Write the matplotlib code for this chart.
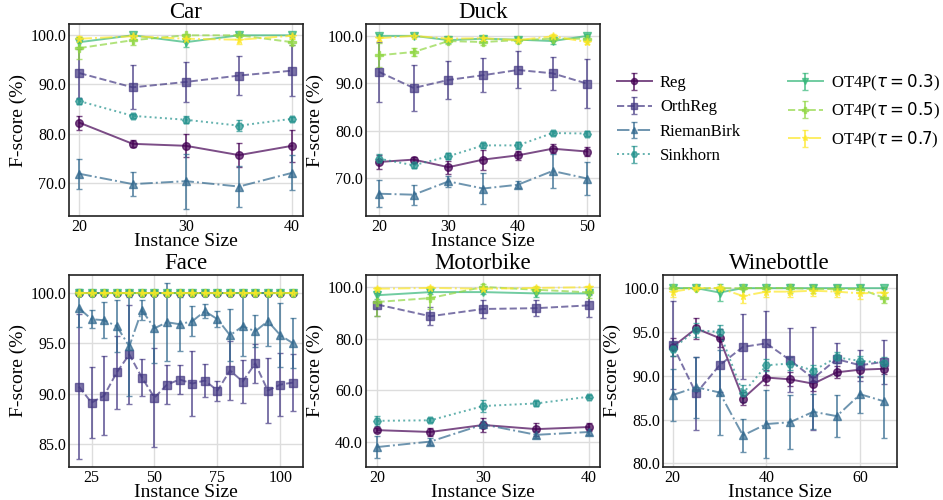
import matplotlib
matplotlib.use('Agg')
import matplotlib.pyplot as plt
import numpy as np

plt.rcParams['font.family'] = ['Liberation Serif', 'DejaVu Sans']
plt.rcParams['mathtext.fontset'] = 'dejavusans'

methods = ['Reg', 'OrthReg', 'RiemanBirk', 'Sinkhorn',
           r'OT4P($\tau = 0.3$)', r'OT4P($\tau = 0.5$)', r'OT4P($\tau = 0.7$)']

# order of rows in every *_mean / *_err list follows "methods"
car_x = [20, 25, 30, 35, 40]
car_mean = [
    [82.2, 77.9, 77.5, 75.6, 77.5],
    [92.3, 89.4, 90.5, 91.8, 92.8],
    [71.8, 69.7, 70.3, 69.2, 72.0],
    [86.6, 83.6, 82.8, 81.6, 83.0],
    [98.6, 100.0, 98.6, 100.0, 100.0],
    [97.4, 99.0, 100.0, 100.0, 98.6],
    [99.3, 99.8, 99.3, 99.1, 99.9],
]
car_err = [
    [1.4, 0.7, 2.3, 2.4, 3.2],
    [5.0, 4.5, 4.0, 3.9, 5.2],
    [3.0, 2.4, 5.6, 4.1, 3.6],
    [0.5, 0.4, 0.7, 1.1, 0.4],
    [1.0, 0.3, 1.0, 0.3, 0.3],
    [2.2, 1.0, 0.3, 0.3, 0.6],
    [0.6, 0.4, 0.6, 0.8, 0.4],
]

duck_x = [20, 25, 30, 35, 40, 45, 50]
duck_mean = [
    [73.4, 73.9, 72.3, 73.9, 74.8, 76.2, 75.6],
    [92.4, 89.0, 90.7, 91.7, 92.8, 92.1, 89.9],
    [66.7, 66.5, 69.3, 67.8, 68.6, 71.5, 69.9],
    [74.1, 72.7, 74.6, 76.9, 76.9, 79.5, 79.4],
    [100.0, 100.0, 99.1, 99.4, 99.2, 98.9, 100.0],
    [95.9, 96.6, 98.9, 98.7, 99.1, 99.4, 99.4],
    [99.5, 100.0, 99.4, 99.5, 99.1, 99.9, 98.7],
]
duck_err = [
    [1.5, 0.5, 1.4, 2.1, 1.0, 1.0, 1.0],
    [6.4, 4.8, 4.0, 3.6, 3.9, 3.5, 5.2],
    [2.9, 2.1, 1.2, 3.2, 0.7, 3.5, 3.5],
    [1.0, 0.5, 0.6, 0.6, 0.7, 0.5, 0.5],
    [0.3, 0.3, 0.6, 0.6, 0.6, 0.6, 0.3],
    [2.5, 0.8, 0.6, 0.6, 0.6, 0.5, 0.5],
    [0.5, 0.3, 0.5, 0.5, 0.5, 0.4, 0.5],
]

face_x = [20, 25, 30, 35, 40, 45, 50, 55, 60, 65, 70, 75, 80, 85, 90, 95, 100, 105]
face_mean = [
    [100.0] * 18,
    [90.7, 89.1, 89.8, 92.1, 93.9, 91.6, 89.6, 90.9, 91.4, 91.0, 91.3, 90.3, 92.3, 91.2, 93.0, 90.3, 90.9, 91.1],
    [98.5, 97.4, 97.3, 96.7, 94.7, 98.3, 96.5, 97.1, 96.9, 97.2, 98.2, 97.4, 95.8, 96.7, 96.2, 97.2, 95.8, 95.0],
    [100.0] * 18,
    [100.0] * 18,
    [100.0] * 18,
    [100.0] * 18,
]
face_err = [
    [0.1] * 18,
    [7.2, 3.5, 3.9, 3.6, 4.9, 1.8, 4.9, 1.9, 1.4, 3.2, 1.6, 1.0, 2.9, 2.1, 1.9, 3.2, 3.1, 2.8],
    [1.9, 0.9, 1.8, 2.6, 4.9, 1.0, 3.5, 3.9, 2.7, 1.5, 0.7, 0.8, 2.6, 3.0, 1.6, 2.5, 3.2, 2.5],
    [0.1] * 18,
    [0.1] * 18,
    [0.1] * 18,
    [0.1] * 18,
]

motor_x = [20, 25, 30, 35, 40]
motor_mean = [
    [44.7, 44.0, 46.7, 45.1, 45.9],
    [93.1, 88.6, 91.4, 91.7, 92.8],
    [38.2, 40.3, 46.9, 42.9, 44.0],
    [48.3, 48.5, 54.0, 55.0, 57.6],
    [96.7, 97.9, 97.9, 97.4, 97.4],
    [94.1, 95.6, 99.9, 98.8, 97.8],
    [99.2, 99.5, 99.2, 99.5, 99.8],
]
motor_err = [
    [0.9, 1.5, 2.6, 2.5, 1.5],
    [4.5, 3.4, 3.5, 3.2, 4.5],
    [4.2, 1.5, 1.5, 1.4, 1.2],
    [2.0, 0.8, 2.2, 0.8, 0.6],
    [1.5, 0.8, 0.8, 1.5, 0.8],
    [5.5, 4.2, 1.0, 1.0, 2.0],
    [0.6, 0.6, 0.6, 0.6, 0.6],
]

wine_x = [20, 25, 30, 35, 40, 45, 50, 55, 60, 65]
wine_mean = [
    [93.3, 95.4, 94.3, 87.4, 89.8, 89.6, 89.1, 90.4, 90.7, 90.8],
    [93.5, 88.0, 91.2, 93.3, 93.7, 91.8, 89.7, 91.9, 91.2, 91.6],
    [87.8, 88.7, 88.1, 83.2, 84.5, 84.7, 85.9, 85.4, 87.9, 87.1],
    [93.1, 95.2, 95.0, 88.0, 91.2, 91.4, 90.6, 92.1, 91.7, 91.5],
    [100.0, 100.0, 99.5, 100.0, 100.0, 100.0, 100.0, 100.0, 100.0, 100.0],
    [100.0, 100.0, 100.0, 100.0, 100.0, 100.0, 99.9, 99.9, 99.9, 98.9],
    [99.6, 100.0, 100.0, 99.1, 99.6, 99.6, 99.7, 99.6, 99.4, 99.5],
]
wine_err = [
    [1.0, 1.2, 1.0, 0.7, 0.9, 0.8, 0.8, 0.7, 0.8, 0.6],
    [5.0, 4.2, 3.0, 3.7, 3.7, 3.6, 5.9, 1.8, 1.8, 2.5],
    [3.0, 3.5, 4.8, 1.9, 3.9, 3.1, 2.0, 2.4, 2.1, 4.2],
    [0.8, 0.8, 0.8, 1.0, 0.7, 0.7, 0.6, 0.6, 0.6, 0.6],
    [0.1, 0.1, 1.0, 0.1, 0.1, 0.1, 0.1, 0.1, 0.1, 0.1],
    [0.1, 0.1, 0.1, 0.1, 0.1, 0.5, 0.5, 0.5, 0.5, 0.6],
    [0.6, 0.2, 0.2, 0.8, 0.6, 0.6, 0.6, 0.6, 0.6, 0.6],
]

colors = ['#440154', '#443983', '#31688e', '#21918c', '#35b779', '#90d743', '#fde725']
markers = ['o', 's', '^', 'H', 'v', 'P', '*']
styles = ['-', '--', '-.', ':', '-', '--', '-.']

panels = [
    ('Car', car_x, car_mean, car_err, [20, 30, 40], [70, 80, 90, 100], (19, 41), (63.2, 102.3), (0, 0)),
    ('Duck', duck_x, duck_mean, duck_err, [20, 30, 40, 50], [70, 80, 90, 100], (18.1, 51.8), (62.0, 102.5), (0, 1)),
    ('Face', face_x, face_mean, face_err, [25, 50, 75, 100], [85, 90, 95, 100], (16, 108.9), (82.7, 101.8), (1, 0)),
    ('Motorbike', motor_x, motor_mean, motor_err, [20, 30, 40], [40, 60, 80, 100], (18.9, 41), (30.5, 104.5), (1, 1)),
    ('Winebottle', wine_x, wine_mean, wine_err, [20, 40, 60], [80, 85, 90, 95, 100], (17.9, 67.8), (79.6, 101.5), (1, 2)),
]

fig, axes = plt.subplots(2, 3, figsize=(9.43, 5), dpi=100)
plt.subplots_adjust(left=0.073, right=0.951, top=0.952, bottom=0.066, wspace=0.269, hspace=0.307)

for title, xs, means, errs, xt, yt, xl, yl, (r, c) in panels:
    ax = axes[r, c]
    for i in range(len(methods)):
        ax.errorbar(xs, means[i], yerr=errs[i], color=colors[i], marker=markers[i],
                    linestyle=styles[i], markersize=5.5, linewidth=1.4, capsize=2,
                    elinewidth=1.4, alpha=0.7, label=methods[i])
    ax.set_title(title, fontsize=16.5, pad=4)
    ax.set_xlabel('Instance Size', fontsize=14, labelpad=-1)
    ax.set_ylabel('F-score (%)', fontsize=14, labelpad=2)
    ax.set_xticks(xt)
    ax.set_yticks(yt)
    ax.set_yticklabels(['%.1f' % v for v in yt])
    ax.set_xlim(*xl)
    ax.set_ylim(*yl)
    ax.tick_params(labelsize=11.5, length=0, pad=2)
    ax.grid(True, color='#dddddd', linewidth=1)
    ax.set_axisbelow(True)
    for s in ax.spines.values():
        s.set_color('#222222')
        s.set_linewidth(1.2)

axes[0, 2].axis('off')
handles, labels = axes[0, 0].get_legend_handles_labels()
fig.legend(handles, labels, loc='upper left', bbox_to_anchor=(0.638, 0.885), ncol=2,
           frameon=False, fontsize=12, labelspacing=0.5, columnspacing=2.8,
           handlelength=2.1, handletextpad=0.5, markerscale=0.8)

plt.savefig('out.png')
